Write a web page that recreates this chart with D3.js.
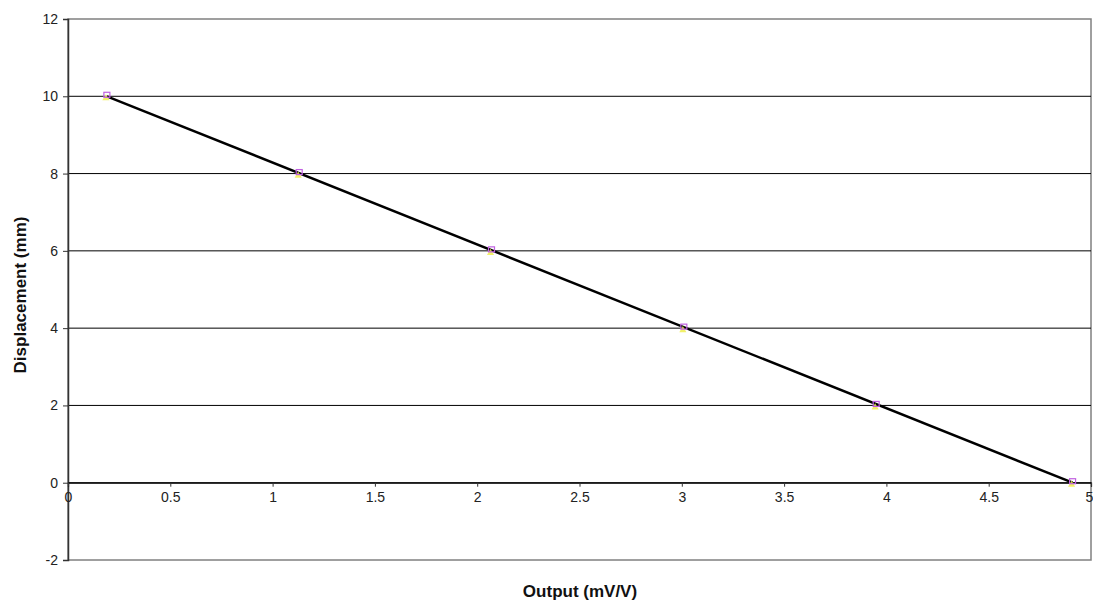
<!DOCTYPE html>
<html>
<head>
<meta charset="utf-8">
<script src="https://cdn.jsdelivr.net/npm/d3@7"></script>
<style>
  html, body { margin: 0; padding: 0; background: #fff; }
  svg { display: block; font-family: Arial, "Liberation Sans", sans-serif; }
</style>
</head>
<body>
<svg id="chart" width="1093" height="606"></svg>
<script>
// Calibration readings: bridge output vs. displacement
const outputMvV = [0.19, 1.13, 2.07, 3.01, 3.95, 4.91];
const displacementMm = [10, 8, 6, 4, 2, 0];
const xTicks = [0, 0.5, 1, 1.5, 2, 2.5, 3, 3.5, 4, 4.5, 5];
const yTicks = [-2, 0, 2, 4, 6, 8, 10, 12];
const xTitle = "Output (mV/V)";
const yTitle = "Displacement (mm)";

const svg = d3.select("#chart");
const plot = { left: 68, top: 19, right: 1091, bottom: 560 };
const labelFont = "Arial, 'Liberation Sans', sans-serif";

const x = d3.scaleLinear().domain([0, 5]).range([plot.left, plot.right]);
const y = d3.scaleLinear().domain([-2, 12]).range([plot.bottom, plot.top]);

// Plain hyphen for negatives, as the spreadsheet prints them
const fmt = v => String(v);

// Plot-area frame
svg.append("rect")
  .attr("x", plot.left).attr("y", plot.top)
  .attr("width", plot.right - plot.left).attr("height", plot.bottom - plot.top)
  .attr("fill", "#fff").attr("stroke", "#808080").attr("stroke-width", 1.5);

// Horizontal gridlines
svg.append("g")
  .selectAll("line")
  .data(yTicks.filter(v => v > -2 && v < 12))
  .join("line")
  .attr("x1", plot.left).attr("x2", plot.right)
  .attr("y1", d => y(d)).attr("y2", d => y(d))
  .attr("stroke", "#000").attr("stroke-width", 1);

// Y axis
const yAxis = svg.append("g")
  .attr("transform", `translate(${plot.left},0)`)
  .call(d3.axisLeft(y).tickValues(yTicks).tickSize(5).tickPadding(5).tickFormat(fmt));
yAxis.select(".domain").attr("stroke", "#333").attr("stroke-width", 1.5);
yAxis.selectAll(".tick line").attr("stroke", "#333");
yAxis.selectAll("text").attr("font-size", 14).attr("fill", "#222")
  .attr("font-family", labelFont);

// X axis crossing at zero displacement
const xAxis = svg.append("g")
  .attr("transform", `translate(0,${y(0)})`)
  .call(d3.axisBottom(x).tickValues(xTicks).tickSize(4).tickPadding(5).tickFormat(fmt));
xAxis.select(".domain").attr("stroke", "#000").attr("stroke-width", 1.2);
xAxis.selectAll(".tick line").attr("stroke", "#333");
xAxis.selectAll("text").attr("font-size", 14).attr("fill", "#222")
  .attr("font-family", labelFont);
// keep the last label inside the page edge
xAxis.selectAll(".tick text").filter(d => d === 5).attr("dx", -2);

// Linear fit line through the readings
const fit = d3.line().x(d => x(d[0])).y(d => y(d[1]));
const pts = outputMvV.map((v, i) => [v, displacementMm[i]]);
svg.append("path")
  .datum([pts[0], pts[pts.length - 1]])
  .attr("d", fit)
  .attr("fill", "none").attr("stroke", "#000").attr("stroke-width", 2.5);

// Markers: yellow triangles and magenta squares
svg.append("g").selectAll("path")
  .data(pts)
  .join("path")
  .attr("transform", d => `translate(${x(d[0]) - 1},${y(d[1]) + 2})`)
  .attr("d", d3.symbol(d3.symbolTriangle, 22))
  .attr("fill", "#f0ee50").attr("opacity", 0.85);
svg.append("g").selectAll("rect")
  .data(pts)
  .join("rect")
  .attr("x", d => x(d[0]) - 3).attr("y", d => y(d[1]) - 4)
  .attr("width", 6).attr("height", 5)
  .attr("fill", "none").attr("stroke", "#c060e0").attr("stroke-width", 1.2);

// Axis titles
svg.append("text")
  .attr("x", 580).attr("y", 597)
  .attr("text-anchor", "middle")
  .attr("font-size", 17).attr("font-weight", "bold").attr("fill", "#111")
  .attr("font-family", labelFont)
  .text(xTitle);
svg.append("text")
  .attr("transform", `translate(26,295) rotate(-90)`)
  .attr("text-anchor", "middle")
  .attr("font-size", 17).attr("font-weight", "bold").attr("fill", "#111")
  .attr("font-family", labelFont)
  .text(yTitle);
</script>
</body>
</html>
